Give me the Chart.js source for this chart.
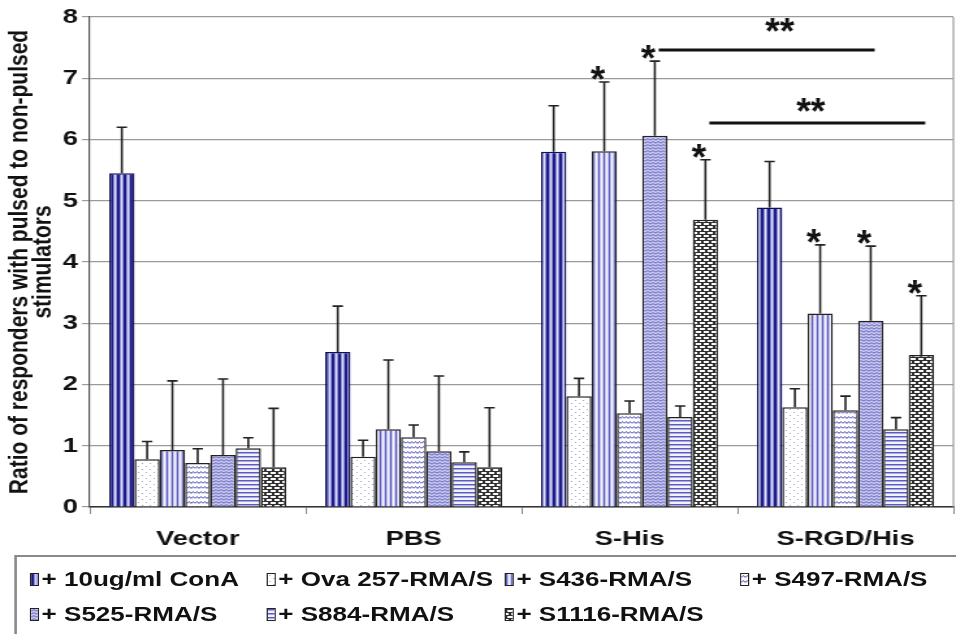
<!DOCTYPE html>
<html>
<head>
<meta charset="utf-8">
<script src="https://cdn.jsdelivr.net/npm/chart.js@4.4.1/dist/chart.umd.min.js"></script>
<style>
  body { margin: 0; background: #fff; width: 956px; height: 634px; overflow: hidden; }
  /* the source figure is stretched ~1.3x horizontally, so draw narrow and stretch */
  #page { position: absolute; left: 0; top: 0; width: 735px; height: 634px; transform: scaleX(1.3007); transform-origin: 0 0; font-family: "Liberation Sans", Arial, sans-serif; }
  #chart { position: absolute; left: 0; top: 0; }
  #legend { position: absolute; left: 11px; top: 555px; width: 740px; height: 100px; border: 2px solid #8a8a8a; box-sizing: border-box; }
  .item { position: absolute; height: 20px; display: flex; align-items: center; font-weight: bold; font-size: 20px; color: #111; white-space: nowrap; }
  .item canvas { border: 1px solid #222; margin-right: 2px; }
</style>
</head>
<body>
<div id="page">
  <canvas id="chart" width="735" height="556"></canvas>
  <div id="legend"></div>
</div>
<script>
// categories and series
const categories = ["Vector", "PBS", "S-His", "S-RGD/His"];
const seriesNames = ["+ 10ug/ml ConA", "+ Ova 257-RMA/S", "+ S436-RMA/S", "+ S497-RMA/S",
                     "+ S525-RMA/S", "+ S884-RMA/S", "+ S1116-RMA/S"];

// mean ratios per group
const conA  = [5.45, 2.53, 5.80, 4.89];
const ova   = [0.78, 0.82, 1.81, 1.63];
const s436  = [0.93, 1.27, 5.81, 3.16];
const s497  = [0.72, 1.14, 1.53, 1.58];
const s525  = [0.85, 0.91, 6.06, 3.04];
const s884  = [0.96, 0.73, 1.47, 1.27];
const s1116 = [0.65, 0.65, 4.69, 2.48];

// upper error (SD)
const conAErr  = [0.75, 0.75, 0.75, 0.75];
const ovaErr   = [0.29, 0.27, 0.29, 0.30];
const s436Err  = [1.13, 1.13, 1.13, 1.12];
const s497Err  = [0.23, 0.20, 0.20, 0.23];
const s525Err  = [1.24, 1.23, 1.22, 1.22];
const s884Err  = [0.17, 0.17, 0.18, 0.19];
const s1116Err = [0.96, 0.97, 0.98, 0.97];

const yTicks = [0, 1, 2, 3, 4, 5, 6, 7, 8];

// single stars: [category, series]
const starred = [[2, 2], [2, 4], [2, 6], [3, 2], [3, 4], [3, 6]];
// double-star brackets between S-His and S-RGD/His for a series
const bracketSeries = [4, 6];
const bracketLevels = [7.46, 6.27];
const bracketLabelLevels = [7.90, 6.60];

const values = [conA, ova, s436, s497, s525, s884, s1116];
const errors = [conAErr, ovaErr, s436Err, s497Err, s525Err, s884Err, s1116Err];

// fill patterns
function tile(w, h, draw) {
  const c = document.createElement("canvas");
  c.width = w; c.height = h;
  draw(c.getContext("2d"));
  return c;
}
function cols(g, colors) { colors.forEach((c, i) => { g.fillStyle = c; g.fillRect(i, 0, 1, 1); }); }
function rows(g, colors) { colors.forEach((c, i) => { g.fillStyle = c; g.fillRect(0, i, 1, 1); }); }

const tiles = [
  tile(5, 1, g => cols(g, ["#1d1d86", "#1d1d86", "#8c8cd6", "#e0e0f7", "#8c8cd6"])),
  tile(6, 6, g => {
    g.fillStyle = "#fff"; g.fillRect(0, 0, 6, 6);
    g.fillStyle = "#a4a4cc"; g.fillRect(1, 1, 1, 1); g.fillRect(4, 4, 1, 1);
  }),
  tile(4, 1, g => cols(g, ["#5c5cbf", "#c4c4ee", "#f6f6fd", "#c4c4ee"])),
  tile(6, 5, g => {
    g.fillStyle = "#fff"; g.fillRect(0, 0, 6, 5);
    g.strokeStyle = "#5a5abd"; g.lineWidth = 1;
    g.beginPath(); g.moveTo(0, 3.5); g.lineTo(1.5, 1.5); g.lineTo(3, 3.5); g.lineTo(4.5, 1.5); g.lineTo(6, 3.5); g.stroke();
  }),
  tile(4, 3, g => {
    g.fillStyle = "#cacaee"; g.fillRect(0, 0, 4, 3);
    g.strokeStyle = "#6060c0"; g.lineWidth = 1;
    g.beginPath(); g.moveTo(0, 2.2); g.lineTo(2, 0.6); g.lineTo(4, 2.2); g.stroke();
  }),
  tile(1, 4, g => rows(g, ["#5a5abf", "#a8a8e2", "#f2f2fc", "#f2f2fc"])),
  tile(6, 6, g => {
    g.fillStyle = "#2e2e2e"; g.fillRect(0, 0, 6, 6);
    g.fillStyle = "#fafafa";
    g.fillRect(1, 1, 4, 2); g.fillRect(4, 4, 2, 2); g.fillRect(0, 4, 2, 2);
  })
];
const borderColors = ["#10105a", "#222", "#222", "#222", "#222", "#222", "#222"];

const ctx = document.getElementById("chart").getContext("2d");
const patterns = tiles.map(t => ctx.createPattern(t, "repeat"));

// error bars, stars and significance brackets
const annotations = {
  id: "annotations",
  afterDraw(chart) {
    const g = chart.ctx, y = chart.scales.y, area = chart.chartArea;
    g.save();
    // right frame line
    g.strokeStyle = "#9a9a9a"; g.lineWidth = 1.2;
    g.beginPath(); g.moveTo(area.right, area.top); g.lineTo(area.right, area.bottom); g.stroke();

    g.strokeStyle = "#222"; g.lineWidth = 1.6;
    values.forEach((vals, si) => {
      const meta = chart.getDatasetMeta(si);
      meta.data.forEach((bar, ci) => {
        const top = y.getPixelForValue(vals[ci] + errors[si][ci]);
        g.beginPath();
        g.moveTo(bar.x, bar.y); g.lineTo(bar.x, top);
        g.moveTo(bar.x - 4, top); g.lineTo(bar.x + 4, top);
        g.stroke();
      });
    });

    function star(text, cx, cy) {
      g.save();
      g.translate(cx, cy);
      g.scale(0.8, 1);
      g.font = 'bold 36px "Liberation Sans", Arial, sans-serif';
      g.fillStyle = "#111"; g.textAlign = "center"; g.textBaseline = "alphabetic";
      g.fillText(text, 0, 21);
      g.restore();
    }
    starred.forEach(([ci, si]) => {
      const bar = chart.getDatasetMeta(si).data[ci];
      const top = y.getPixelForValue(values[si][ci] + errors[si][ci]);
      star("*", bar.x - 5, top - 11);
    });

    g.strokeStyle = "#111"; g.lineWidth = 3;
    bracketSeries.forEach((si, k) => {
      const meta = chart.getDatasetMeta(si);
      const x0 = meta.data[2].x + 3, x1 = meta.data[3].x + 3;
      const ly = y.getPixelForValue(bracketLevels[k]);
      g.beginPath(); g.moveTo(x0, ly); g.lineTo(x1, ly); g.stroke();
      const shift = k === 0 ? 10 : -5;
      star("**", (x0 + x1) / 2 + shift, y.getPixelForValue(bracketLabelLevels[k]));
    });
    g.restore();
  }
};

const tickFont = { family: '"Liberation Sans", Arial, sans-serif', size: 21, weight: "bold" };

new Chart(ctx, {
  type: "bar",
  data: {
    labels: categories,
    datasets: seriesNames.map((name, i) => ({
      label: name,
      data: values[i],
      backgroundColor: patterns[i],
      borderColor: borderColors[i],
      borderWidth: 1.5,
      categoryPercentage: 0.82,
      barPercentage: 1.0
    }))
  },
  options: {
    responsive: false,
    animation: false,
    layout: { padding: { top: 17, right: 2, left: 0, bottom: 0 } },
    plugins: { legend: { display: false }, tooltip: { enabled: false } },
    scales: {
      x: {
        grid: { offset: true, drawOnChartArea: false, tickLength: 7, color: "#888" },
        border: { color: "#333", width: 1.5 },
        ticks: { font: tickFont, color: "#111", padding: 13 },
        afterFit: s => { s.height = 49; }
      },
      y: {
        min: 0, max: 8,
        afterBuildTicks: s => { s.ticks = yTicks.map(v => ({ value: v })); },
        ticks: { font: tickFont, color: "#111", padding: 3 },
        grid: { color: "#9a9a9a", lineWidth: 1.2, tickLength: 6 },
        border: { color: "#555", width: 1.2 },
        title: {
          display: true,
          text: ["Ratio of responders with pulsed to non-pulsed", "stimulators"],
          font: { family: '"Liberation Sans", Arial, sans-serif', size: 21, weight: "bold", lineHeight: 0.82 },
          color: "#111",
          padding: { top: 7, bottom: 0 }
        },
        afterFit: s => { s.width = 69; }
      }
    }
  },
  plugins: [annotations]
});

// legend
const legendPos = [[10, 12], [192, 12], [375, 12], [556, 12], [10, 47], [192, 47], [375, 47]];
const legend = document.getElementById("legend");
seriesNames.forEach((name, i) => {
  const item = document.createElement("div");
  item.className = "item";
  item.style.left = legendPos[i][0] + "px";
  item.style.top = legendPos[i][1] + "px";
  const sw = document.createElement("canvas");
  sw.width = 5; sw.height = 11;
  const sg = sw.getContext("2d");
  sg.fillStyle = sg.createPattern(tiles[i], "repeat");
  sg.fillRect(0, 0, 5, 11);
  item.appendChild(sw);
  item.appendChild(document.createTextNode(name));
  legend.appendChild(item);
});
</script>
</body>
</html>
